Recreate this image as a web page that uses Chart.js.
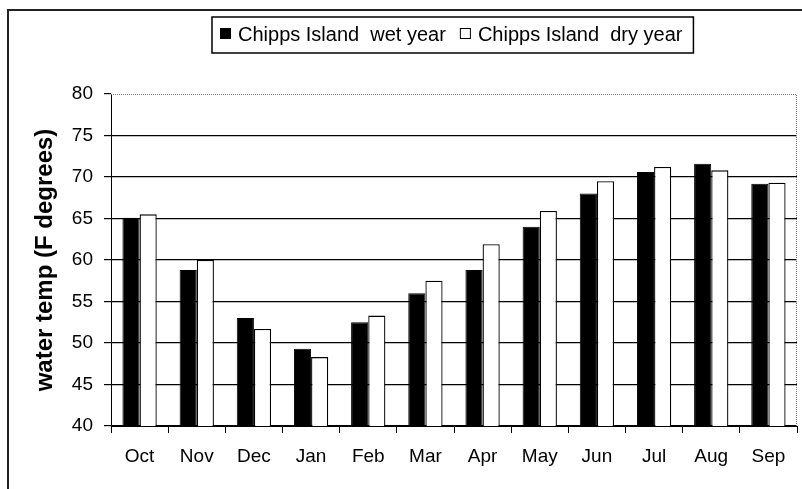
<!DOCTYPE html>
<html>
<head>
<meta charset="utf-8">
<script src="https://cdn.jsdelivr.net/npm/chart.js@4"></script>
<style>
  html, body { margin: 0; padding: 0; background: #ffffff; }
  #wrap { width: 802px; height: 489px; position: relative; }
</style>
</head>
<body>
<div id="wrap"><canvas id="c" width="802" height="489"></canvas></div>
<script>
// ---- data ----
const months = ['Oct', 'Nov', 'Dec', 'Jan', 'Feb', 'Mar', 'Apr', 'May', 'Jun', 'Jul', 'Aug', 'Sep'];
const wetYear = [65.1, 58.8, 53.0, 49.3, 52.5, 56.0, 58.8, 64.0, 68.0, 70.6, 71.6, 69.2];
const dryYear = [65.5, 60.0, 51.7, 48.3, 53.3, 57.5, 61.9, 65.9, 69.5, 71.2, 70.8, 69.3];
const seriesLabels = ['Chipps Island  wet year', 'Chipps Island  dry year'];
const yAxisTitle = 'water temp (F degrees)';
const yMin = 40, yMax = 80, yStep = 5;

const FONT = 'Arial, "Liberation Sans", sans-serif';

// frame, dotted plot border and boxed legend
const decorPlugin = {
  id: 'decor',
  afterDraw(chart) {
    const ctx = chart.ctx;
    const a = chart.chartArea;
    ctx.save();
    // outer frame (top and left visible)
    ctx.strokeStyle = '#222';
    ctx.lineWidth = 2;
    ctx.beginPath();
    ctx.moveTo(8, 489);
    ctx.lineTo(8, 10);
    ctx.lineTo(802, 10);
    ctx.stroke();
    // dotted top/right plot border
    ctx.strokeStyle = '#777';
    ctx.lineWidth = 1;
    ctx.setLineDash([1, 1]);
    ctx.beginPath();
    ctx.moveTo(a.left, Math.round(a.top) + 0.5);
    ctx.lineTo(Math.round(a.right) - 0.5, Math.round(a.top) + 0.5);
    ctx.lineTo(Math.round(a.right) - 0.5, a.bottom);
    ctx.stroke();
    ctx.setLineDash([]);
    // legend
    const ds = chart.data.datasets;
    ctx.font = '20px ' + FONT;
    ctx.textBaseline = 'alphabetic';
    ctx.textAlign = 'left';
    const boxL = 212, boxT = 17, boxH = 36;
    let x = 220;
    const sq = 11, sqY = 28;
    ds.forEach((d, i) => {
      ctx.fillStyle = d.backgroundColor;
      ctx.fillRect(x, sqY, sq, sq);
      ctx.strokeStyle = '#000';
      ctx.lineWidth = 1;
      ctx.strokeRect(x + 0.5, sqY + 0.5, sq - 1, sq - 1);
      x += sq + 7;
      ctx.fillStyle = '#000';
      ctx.fillText(d.label, x, 41);
      x += ctx.measureText(d.label).width + (i < ds.length - 1 ? 14 : 11);
    });
    ctx.strokeStyle = '#000';
    ctx.lineWidth = 1.5;
    ctx.strokeRect(boxL, boxT, x - boxL, boxH);
    ctx.restore();
  }
};

new Chart(document.getElementById('c'), {
  type: 'bar',
  data: {
    labels: months,
    datasets: [
      {
        label: seriesLabels[0],
        data: wetYear,
        backgroundColor: '#000000',
        borderColor: '#000000',
        borderWidth: 1
      },
      {
        label: seriesLabels[1],
        data: dryYear,
        backgroundColor: '#ffffff',
        borderColor: '#000000',
        borderWidth: 1.3
      }
    ]
  },
  options: {
    responsive: false,
    animation: false,
    layout: { padding: { top: 94, left: 0, right: 5, bottom: 0 } },
    datasets: { bar: { categoryPercentage: 0.6, barPercentage: 1.0 } },
    plugins: {
      legend: { display: false },
      tooltip: { enabled: false },
      title: { display: false }
    },
    scales: {
      x: {
        grid: {
          display: true,
          drawOnChartArea: false,
          drawTicks: true,
          tickLength: 7,
          color: '#000',
          tickColor: '#000',
          offset: true
        },
        border: { display: true, color: '#000', width: 1 },
        ticks: {
          color: '#000',
          font: { family: FONT, size: 19 },
          padding: 12,
          maxRotation: 0,
          autoSkip: false
        },
        afterFit(scale) { scale.height = 63; }
      },
      y: {
        min: yMin,
        max: yMax,
        grid: {
          color: (c) => (c.tick && c.tick.value === yMax) ? 'rgba(0,0,0,0)' : '#000',
          tickColor: '#000',
          tickLength: 7,
          lineWidth: 1.2
        },
        border: { display: true, color: '#000', width: 1 },
        ticks: {
          stepSize: yStep,
          color: '#000',
          font: { family: FONT, size: 19 },
          padding: 11
        },
        title: {
          display: true,
          text: yAxisTitle,
          color: '#000',
          font: { family: FONT, size: 24, weight: 'bold' },
          padding: { top: 31, bottom: 0 }
        },
        afterFit(scale) { scale.width = 111; }
      }
    }
  },
  plugins: [decorPlugin]
});
</script>
</body>
</html>
